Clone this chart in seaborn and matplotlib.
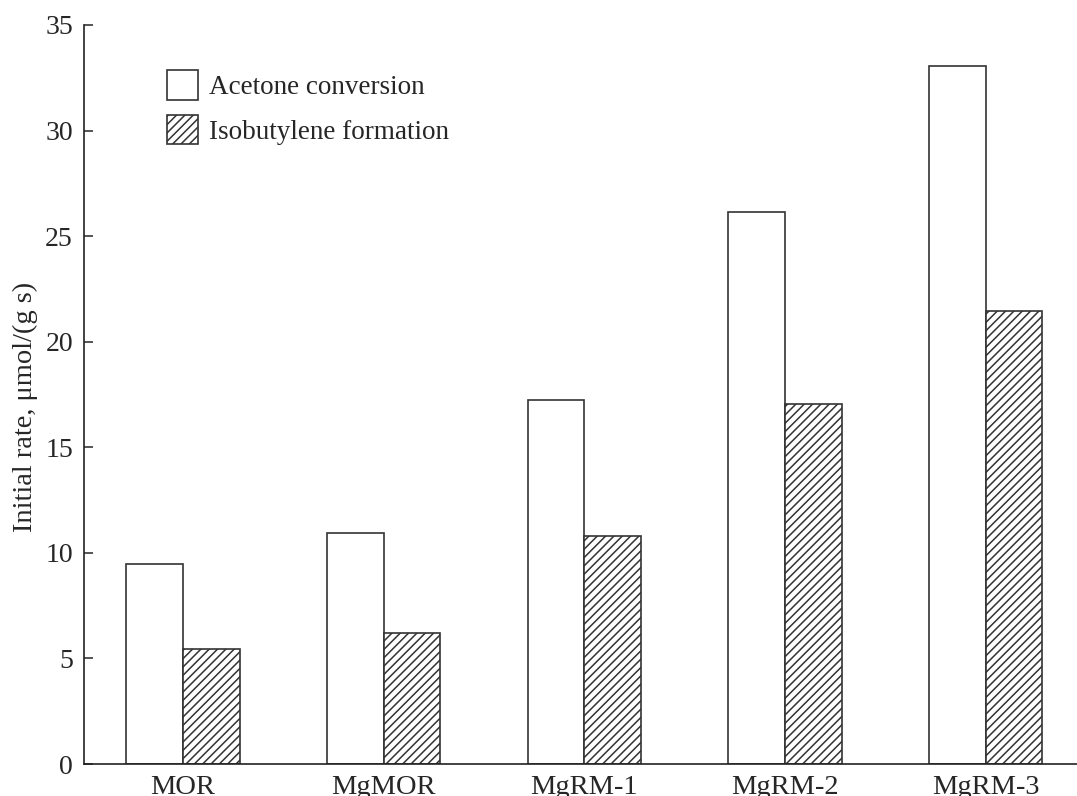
import numpy as np
import pandas as pd
import matplotlib
matplotlib.use("Agg")
import matplotlib.pyplot as plt
from matplotlib.patches import Patch
import seaborn as sns

# values
catalysts = ["MOR", "MgMOR", "MgRM-1", "MgRM-2", "MgRM-3"]
acetone_conversion = [9.45, 10.95, 17.25, 26.15, 33.05]
isobutylene_formation = [5.45, 6.2, 10.8, 17.05, 21.45]
series_names = ["Acetone conversion", "Isobutylene formation"]
y_ticks = [0, 5, 10, 15, 20, 25, 30, 35]

df = pd.DataFrame({
    "catalyst": catalysts * 2,
    "rate": acetone_conversion + isobutylene_formation,
    "series": [series_names[0]] * len(catalysts) + [series_names[1]] * len(catalysts),
})

sns.set_style("ticks")
plt.rcParams["font.family"] = ["Liberation Serif", "DejaVu Serif"]
plt.rcParams["hatch.linewidth"] = 1.1
plt.rcParams["hatch.color"] = "#1a1a1a"

fig = plt.figure(figsize=(10.77, 7.96), dpi=100)
ax = fig.add_axes([84 / 1077, 32 / 796, 1 - 84 / 1077, 739 / 796])

sns.barplot(data=df, x="catalyst", y="rate", hue="series",
            palette=["white", "white"], width=0.565, gap=0,
            edgecolor="#333333", linewidth=1.2, legend=False, ax=ax)

# hatch the isobutylene bars
for bar in ax.containers[1]:
    bar.set_hatch("////")

ax.set_xlim(-0.493, 4.455)
ax.set_ylim(0, 35)
ax.set_yticks(y_ticks)
ax.set_xlabel("")
ax.set_ylabel("Initial rate, μmol/(g s)", fontsize=20.5, va="center")
ax.yaxis.set_label_coords(-0.0594, 0.483)

ax.tick_params(axis="y", direction="in", length=6.5, width=1.1, pad=8, labelsize=20)
ax.tick_params(axis="x", length=0, pad=8, labelsize=20.5)

sns.despine(ax=ax)
for side in ["left", "bottom"]:
    ax.spines[side].set_linewidth(1.2)
    ax.spines[side].set_color("#222222")

handles = [
    Patch(facecolor="white", edgecolor="#333333", linewidth=1.2, label=series_names[0]),
    Patch(facecolor="white", edgecolor="#333333", linewidth=1.2, hatch="////", label=series_names[1]),
]
ax.legend(handles=handles, loc="upper left",
          bbox_to_anchor=(167 / 1077, 1 - 70 / 796), bbox_transform=fig.transFigure,
          frameon=False, fontsize=19.5, handlelength=1.15, handleheight=1.3,
          handletextpad=0.4, labelspacing=0.55, borderpad=0, borderaxespad=0)

fig.savefig("out.png", dpi=100)
